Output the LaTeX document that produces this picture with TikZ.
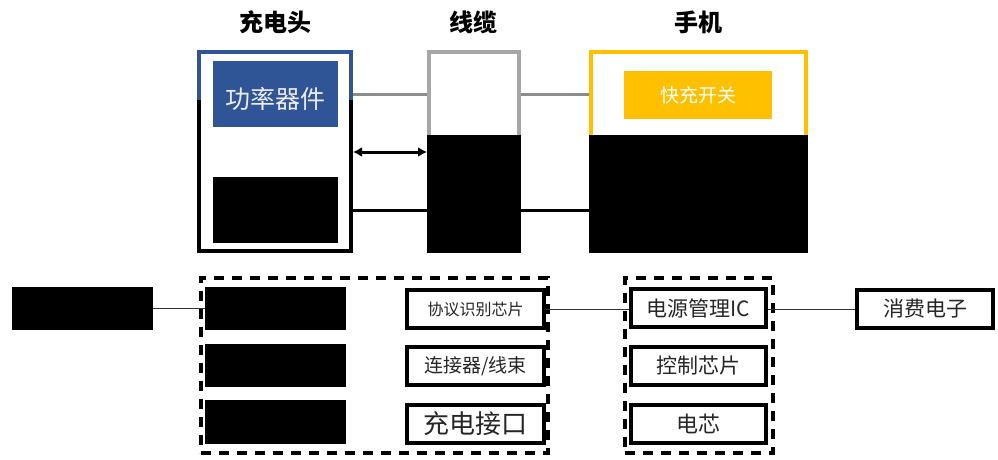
\documentclass[tikz,border=0pt]{standalone}
\usepackage{fontspec}
\newfontfamily\cjk{Noto Sans CJK SC}
\usetikzlibrary{arrows.meta}
\definecolor{pblue}{HTML}{2F5597}
\definecolor{pyellow}{HTML}{FFC000}
\definecolor{pgrayb}{HTML}{A6A6A6}
\definecolor{pgrayl}{HTML}{8C8C8C}
\tikzset{
  title/.style={font=\cjk\bfseries\fontsize{24}{28}\selectfont, inner sep=0},
  frame/.style={draw, line width=4pt, inner sep=0},
  fillbox/.style={inner sep=0, draw=none},
  chip/.style={draw=black, line width=4pt, inner sep=0, fill=white, text=black!85, minimum width=137pt, minimum height=38pt},
  group/.style={draw=black, line width=3.5pt, dash pattern=on 10pt off 8pt, inner sep=0},
  thin/.style={line width=1pt, draw=black!80},
}
\begin{document}
\begin{tikzpicture}[x=1pt,y=-1pt]
\useasboundingbox (0,0) rectangle (998,460);
% titles
\node[title] (t1) at (275,22) {充电头};
\node[title] (t2) at (473,22) {线缆};
\node[title] (t3) at (698,22) {手机};
% charger
\node[frame, draw=black, minimum width=152pt, minimum height=199pt] (chg) at (275,151.5) {};
\draw[pblue, line width=4pt] (chg.center |- 0,100) ++(-76,0) -- ++(0,-48) -- ++(152,0) -- ++(0,48);
\node[fillbox, fill=pblue, minimum width=125pt, minimum height=66pt] (pwr) at (275.5,94) {};
\node[inner sep=0, text=white!92!black, font=\cjk\fontsize{25}{28}\selectfont] (pwrt) at (275.5,99) {功率器件};
\node[fillbox, fill=black, minimum width=125pt, minimum height=66pt] (chgin) at (275.5,210) {};
% cable
\node[frame, draw=pgrayb, minimum width=90pt, minimum height=199pt] (cab) at (474,151.5) {};
\fill[black] (cab.west |- 0,135) rectangle (cab.east |- 0,253);
% phone
\node[frame, draw=pyellow, minimum width=215pt, minimum height=199pt] (phn) at (698.5,151.5) {};
\node[fillbox, fill=pyellow, minimum width=148pt, minimum height=48pt, text=white, font=\cjk\fontsize{19}{22}\selectfont] (fast) at (698,95) {快充开关};
\fill[black] (phn.west |- 0,135) rectangle (phn.east |- 0,253);
% top connectors
\draw[pgrayl, line width=3pt] (chg.east |- pwr.center) -- (cab.west |- pwr.center);
\draw[pgrayl, line width=3pt] (cab.east |- pwr.center) -- (phn.west |- pwr.center);
\coordinate (ay) at (0,152);
\draw[black, line width=3pt, {Latex[length=9pt,width=10pt]}-{Latex[length=9pt,width=10pt]}] (chg.east |- ay) -- (cab.west |- ay);
\draw[black, line width=3pt] (chg.east |- chgin.center) -- (cab.west |- chgin.center);
\draw[black, line width=3pt] (cab.east |- chgin.center) -- (phn.west |- chgin.center);
% lower section
\node[fillbox, fill=black, minimum width=141pt, minimum height=43pt] (src) at (82.5,308.5) {};
\node[group, minimum width=347pt, minimum height=175pt] (g1) at (374.5,365.5) {};
\node[group, minimum width=148pt, minimum height=175pt] (g2) at (699,365.5) {};
\node[fillbox, fill=black, minimum width=141pt, minimum height=43pt] (l1) at (275.5,308.5) {};
\node[fillbox, fill=black, minimum width=141pt, minimum height=43pt] (l2) at (275.5,365.5) {};
\node[fillbox, fill=black, minimum width=141pt, minimum height=44pt] (l3) at (275.5,422) {};
\node[chip, font=\cjk\fontsize{16}{18}\selectfont] (r1) at (475.5,309) {协议识别芯片};
\node[chip, font=\cjk\fontsize{19}{22}\selectfont] (r2) at (475.5,366) {连接器/线束};
\node[chip, font=\cjk\fontsize{26}{28}\selectfont] (r3) at (475.5,424) {充电接口};
\node[chip, minimum width=135pt, font=\cjk\fontsize{21}{24}\selectfont] (p1) at (698.5,308) {电源管理IC};
\node[chip, minimum width=135pt, font=\cjk\fontsize{21}{24}\selectfont] (p2) at (698.5,366) {控制芯片};
\node[chip, minimum width=135pt, font=\cjk\fontsize{22}{24}\selectfont] (p3) at (698.5,424) {电芯};
\node[chip, minimum width=136pt, font=\cjk\fontsize{21}{24}\selectfont] (ce) at (925,309) {消费电子};
\draw[thin] (src.east) -- (l1.west);
\draw[thin] (r1.east) -- (p1.west |- r1.east);
\draw[thin] (p1.east |- ce.west) -- (ce.west);
\end{tikzpicture}
\end{document}
